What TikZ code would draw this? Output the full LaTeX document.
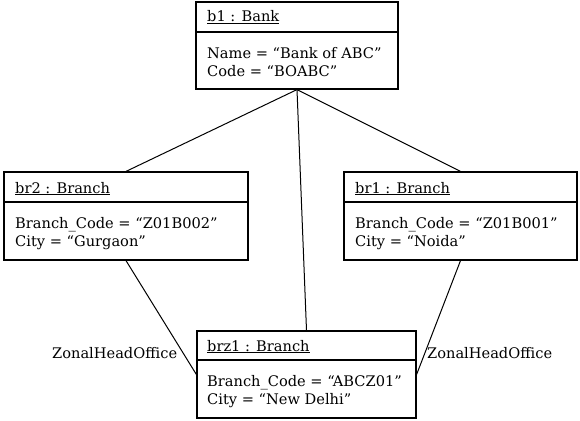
\documentclass[tikz,border=0pt]{standalone}
\usepackage{fontspec}
\setmainfont{DejaVu Serif}
\begin{document}
\begin{tikzpicture}[x=1pt,y=-1pt,
  objbox/.style={draw, line width=1.2pt, inner sep=0pt},
  divider/.style={line width=1.2pt},
  txt/.style={anchor=base west, inner sep=0pt, font=\fontsize{14.6}{17}\selectfont},
  link/.style={line width=1pt}]
\useasboundingbox (0,0) rectangle (580,420);
% boxes
\node[objbox, minimum width=202pt, minimum height=87pt] (b1) at (297,45.5) {};
\node[objbox, minimum width=244pt, minimum height=88pt] (br2) at (126,216) {};
\node[objbox, minimum width=233pt, minimum height=88pt] (br1) at (460.5,216) {};
\node[objbox, minimum width=219pt, minimum height=87pt] (brz1) at (306.5,374.5) {};
% dividers
\draw[divider] (b1.west |- 0,32) -- (b1.east |- 0,32);
\draw[divider] (br2.west |- 0,202) -- (br2.east |- 0,202);
\draw[divider] (br1.west |- 0,202) -- (br1.east |- 0,202);
\draw[divider] (brz1.west |- 0,360) -- (brz1.east |- 0,360);
% texts
\node[txt] (b1h) at (207,22) {\underline{b1 : Bank}};
\node[txt] (b1a) at (207,58) {Name = “Bank of ABC”};
\node[txt] (b1b) at (207,76) {Code = “BOABC”};
\node[txt] (br2h) at (15,193) {\underline{br2 : Branch}};
\node[txt] (br2a) at (15,228) {Branch\_Code = “Z01B002”};
\node[txt] (br2b) at (15,246) {City = “Gurgaon”};
\node[txt] (br1h) at (355,193) {\underline{br1 : Branch}};
\node[txt] (br1a) at (355,228) {Branch\_Code = “Z01B001”};
\node[txt] (br1b) at (355,246) {City = “Noida”};
\node[txt] (brzh) at (207,351) {\underline{brz1 : Branch}};
\node[txt] (brza) at (207,386) {Branch\_Code = “ABCZ01”};
\node[txt] (brzb) at (207,404) {City = “New Delhi”};
% connectors
\draw[link] (b1.south) -- (br2.north);
\draw[link] (b1.south) -- (br1.north);
\draw[link] (b1.south) -- (brz1.north);
\draw[link] (br2.south) -- (brz1.west);
\draw[link] (br1.south) -- (brz1.east);
% labels
\node[txt] (lab1) at (52,358) {ZonalHeadOffice};
\node[txt] (lab2) at (427,358) {ZonalHeadOffice};
\end{tikzpicture}
\end{document}
